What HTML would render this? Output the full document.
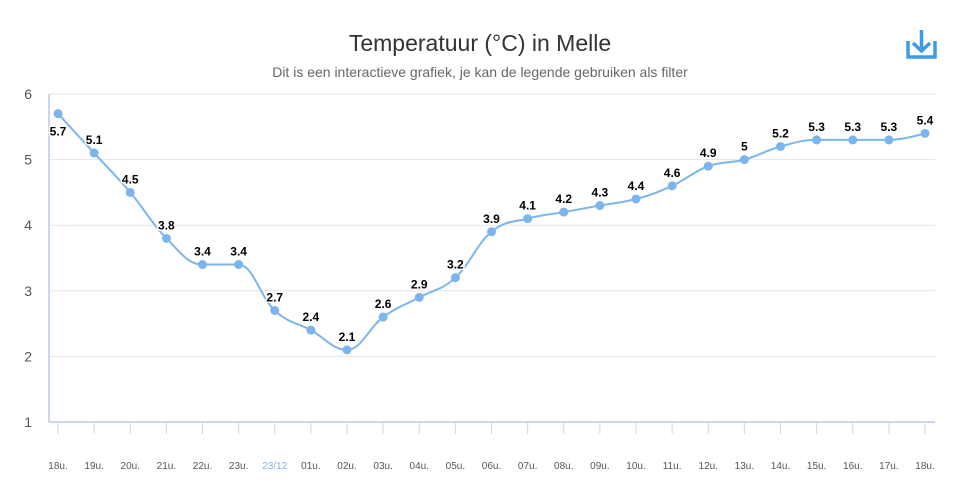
<!DOCTYPE html>
<html><head><meta charset="utf-8"><style>
body{margin:0;background:#fff;font-family:"Liberation Sans",sans-serif}
svg{display:block}
</style></head><body>
<svg id="c" width="970" height="493">
<text x="480" y="51" text-anchor="middle" font-size="23" fill="#333">Temperatuur (°C) in Melle</text>
<text x="480" y="77" text-anchor="middle" font-size="14" fill="#666">Dit is een interactieve grafiek, je kan de legende gebruiken als filter</text>
<g fill="none" stroke="#3d9be3" stroke-width="3.5">
<path d="M908 41 V57 H935 V41"/><path d="M921.5 30 V51 M913 43 L921.5 51 L930 43"/>
</g>
<g id="grid"></g><g id="axes"></g><g id="series"></g><g id="labels"></g>
</svg>
<script>
const categories=["18u.","19u.","20u.","21u.","22u.","23u.","23/12","01u.","02u.","03u.","04u.","05u.","06u.","07u.","08u.","09u.","10u.","11u.","12u.","13u.","14u.","15u.","16u.","17u.","18u."];
const temps=[5.7,5.1,4.5,3.8,3.4,3.4,2.7,2.4,2.1,2.6,2.9,3.2,3.9,4.1,4.2,4.3,4.4,4.6,4.9,5,5.2,5.3,5.3,5.3,5.4];
const yTicks=[1,2,3,4,5,6];
const NS="http://www.w3.org/2000/svg";
const L=49,R=935,T=94,B=422;
const x=i=>58+i*(925-58)/(categories.length-1);
const y=v=>B-(v-1)*(B-T)/5;
function mk(t,a,p){const e=document.createElementNS(NS,t);for(const k in a)e.setAttribute(k,a[k]);p.appendChild(e);return e;}
const g=document.getElementById('grid'),ax=document.getElementById('axes'),s=document.getElementById('series'),lb=document.getElementById('labels');
yTicks.forEach(v=>{
 if(v>1){const l=mk('line',{x1:L,x2:R,y1:y(v),y2:y(v),stroke:'#e6e6e6'},g);
 
 }
 const t=mk('text',{x:32,y:y(v)+5,'text-anchor':'end','font-size':14,fill:'#555'},ax);t.textContent=v;
 
 
});
mk('line',{x1:L,x2:L,y1:T,y2:B,stroke:'#ccd6eb','stroke-width':2},ax);
mk('line',{x1:L,x2:R,y1:B,y2:B,stroke:'#ccd6eb','stroke-width':2},ax);
categories.forEach((c,i)=>{
 mk('line',{x1:x(i),x2:x(i),y1:B,y2:B+12,stroke:'#ccd6eb'},ax);
 const t=mk('text',{x:x(i),y:469,'text-anchor':'middle','font-size':10,fill:c.includes('/')?'#7cb5ec':'#555'},ax);t.textContent=c;
 
 
});
// spline
const P=temps.map((v,i)=>[x(i),y(v)]);
let d='M'+P[0][0]+' '+P[0][1];
const sm=1.5,den=sm+1;
function ctrl(i){
 const p=P[i-1],c=P[i],n=P[i+1];
 if(!p||!n)return[c,c];
 let lx=(sm*c[0]+p[0])/den,ly=(sm*c[1]+p[1])/den,rx=(sm*c[0]+n[0])/den,ry=(sm*c[1]+n[1])/den;
 const cr=((ry-ly)*(rx-c[0]))/(rx-lx)+c[1]-ry;ly+=cr;ry+=cr;
 if(ly>p[1]&&ly>c[1]){ly=Math.max(p[1],c[1]);ry=2*c[1]-ly;}else if(ly<p[1]&&ly<c[1]){ly=Math.min(p[1],c[1]);ry=2*c[1]-ly;}
 if(ry>n[1]&&ry>c[1]){ry=Math.max(n[1],c[1]);ly=2*c[1]-ry;}else if(ry<n[1]&&ry<c[1]){ry=Math.min(n[1],c[1]);ly=2*c[1]-ry;}
 return[[lx,ly],[rx,ry]];
}
for(let i=1;i<P.length;i++){
 const a=ctrl(i-1)[1],b=ctrl(i)[0];
 d+=` C${a[0]} ${a[1]} ${b[0]} ${b[1]} ${P[i][0]} ${P[i][1]}`;
}
const path=mk('path',{d:d,fill:'none',stroke:'#7cb5ec','stroke-width':2},s);


temps.forEach((v,i)=>{
 const c=mk('circle',{cx:x(i),cy:y(v),r:4.5,fill:'#7cb5ec'},s);
 
 
 const t=mk('text',{x:x(i),y:i==0?y(v)+22:y(v)-9,'text-anchor':'middle','font-size':12,'font-weight':'bold',fill:'#000',stroke:'#fff','stroke-width':3,'paint-order':'stroke'},lb);
 t.textContent=v;
 
 
});
</script>
</body></html>
